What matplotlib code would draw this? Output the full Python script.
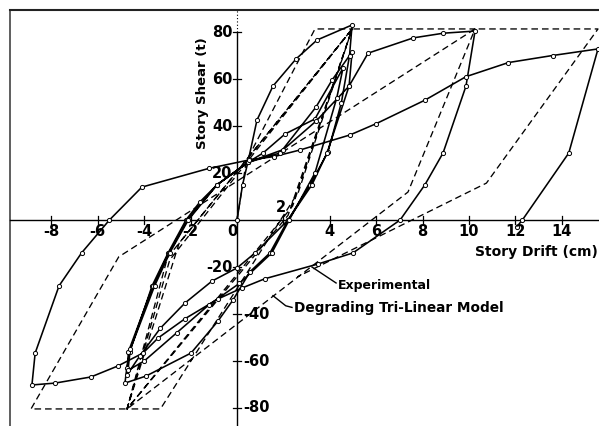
import numpy as np
import matplotlib.pyplot as plt

plt.rcParams['font.family'] = 'DejaVu Sans'

## Experimental hysteresis (story drift in cm, story shear in t), traced in load order
exp_drift = [0, 0.24, 0.5, 0.86, 1.55, 2.54, 3.45, 4.96,
             4.85, 4.5, 3.92, 3.15, 2.2, 1.42, 0.56, -0.17, -0.82, -1.98, -3.92, -4.83,
             -4.75, -4.62, -3.66, -2.97, -2.2, -1.6, -0.86, 0.47, 1.85, 3.4, 4.1, 4.96,
             4.83, 3.88, 3.23, 2.2, 0.78, 0.0, -1.08, -2.24, -3.3, -4.2, -4.75,
             -4.68, -3.62, -2.93, -2.15, -0.86, 0.47, 1.12, 2.07, 3.36, 4.57,
             4.3, 3.36, 2.25, 1.5, 0.1, -1.2, -2.6, -4.0, -4.7,
             -4.6, -3.55, -2.9, -2.1, -0.86, 0.47, 2.0, 3.4, 4.83, 5.65, 7.6, 8.9, 10.26,
             9.87, 8.88, 8.1, 7.03, 5.0, 3.5, 1.2, 0.2, -0.82, -2.24, -3.4, -4.05, -5.13, -6.3, -7.84, -8.84,
             -8.7, -7.67, -6.7, -5.5, -4.1, -1.2, 0.5, 1.6, 2.72, 4.87, 6.0, 8.1, 9.87, 11.7, 13.6, 15.56,
             14.3, 12.3, 12.05]
exp_shear = [0, 15, 26, 42.5, 57, 68.5, 76.6, 83,
             70, 50, 29, 15, 0, -14, -22, -34, -43, -56.6, -66.4, -69.4,
             -63, -56, -28, -14, 0, 7.7, 15, 24.5, 28.5, 48, 59.6, 71.5,
             57, 28.5, 15, 0, -14, -20.4, -26, -35.3, -46, -58, -66,
             -56, -28, -14, 0, 15, 24.5, 28.5, 36.6, 43, 64.7,
             52, 20, 0, -14, -27, -36, -48, -60, -64,
             -55, -28, -14, 0, 15, 24.5, 30, 42, 57, 71, 77.5, 79.5, 80.4,
             57, 28.5, 15, 0, -14, -18.7, -25, -29, -33.6, -42, -50.2, -56.6, -62.1, -66.8, -69.4, -70.2,
             -56.6, -28, -14, 0, 14, 22, 25.5, 27, 29.8, 36.2, 41, 51, 61, 67, 70, 72.8,
             28.5, 0, -3]

## Degrading tri-linear model path
model_drift = [0, 0.4, 3.36, 4.96,
               2.65, -3.3, -4.74,
               -2.9, 4.96,
               2.4, -4.74,
               -2.5, 4.96,
               2.2, -4.74,
               -3.0, 4.96, 10.26,
               7.37, -4.74, -8.88,
               -5.1, 10.26, 15.56,
               10.75, 2.6]
model_shear = [0, 25, 81.3, 81.3,
               12, -80.4, -80.4,
               -17, 81.3,
               6, -80.4,
               -10, 81.3,
               2, -80.4,
               -16, 81.3, 81.3,
               11.9, -80.4, -80.4,
               -15.7, 81.3, 81.3,
               15.7, -24.2]

x_ticks = [-8, -6, -4, -2, 0, 2, 4, 6, 8, 10, 12, 14]
y_ticks = [-80, -60, -40, -20, 20, 40, 60, 80]

fig = plt.figure(figsize=(5.99, 4.26), dpi=100)
ax = fig.add_axes([0, 0, 1, 1])
ax.set_xlim(-10.216, 15.603)
ax.set_ylim(-87.66, 93.62)
ax.axis('off')

## frame (cut off at right and bottom in the scan)
ax.plot([-9.78, -9.78], [-90, 89.36], color='#333333', lw=1.1)
ax.plot([-9.78, 16], [89.36, 89.36], color='#222222', lw=1.5)

## centre axes
ax.plot([-9.78, 16], [0, 0], color='k', lw=1.0)
ax.plot([0, 0], [-90, 80], color='k', lw=1.0)
ax.plot([0, 0], [80, 89.36], color='k', lw=0.8, linestyle=(0, (1, 2)))

for t in x_ticks:
    ax.plot([t, t], [-1.6, 1.6], color='k', lw=0.9)
for t in y_ticks:
    ax.plot([-0.17, 0.17], [t, t], color='k', lw=0.9)

fs = 10.5
for t in x_ticks:
    if t == 0:
        ax.text(-0.2, -5, '0', ha='center', va='center', fontsize=fs, fontweight='bold')
    elif t == 2:
        ax.text(1.9, 5.5, '2', ha='center', va='center', fontsize=fs, fontweight='bold')
    else:
        ax.text(t, -5, str(t), ha='center', va='center', fontsize=fs, fontweight='bold')
for t in y_ticks:
    if t >= -20:
        ax.text(-0.2, t, str(t), ha='right', va='center', fontsize=fs, fontweight='bold')
    else:
        ax.text(0.28, t, str(t), ha='left', va='center', fontsize=fs, fontweight='bold')

ax.text(-1.47, 54, 'Story Shear (t)', rotation=90, ha='center', va='center',
        fontsize=9.5, fontweight='bold')
ax.text(15.55, -13.6, 'Story Drift (cm)', ha='right', va='center',
        fontsize=10, fontweight='bold')

## curves
ax.plot(model_drift, model_shear, color='k', lw=0.95, linestyle=(0, (5, 3)))
ax.plot(exp_drift, exp_shear, color='k', lw=1.15, marker='o', markersize=3,
        markerfacecolor='white', markeredgewidth=0.7)

## labels with leaders
ax.plot([3.23, 4.27], [-20, -26.8], color='k', lw=1.0)
ax.text(4.35, -27.7, 'Experimental', ha='left', va='center', fontsize=9, fontweight='bold')
ax.plot([1.55, 2.1, 2.37], [-32.2, -36.5, -37.2], color='k', lw=1.0)
ax.text(2.45, -37.4, 'Degrading Tri-Linear Model', ha='left', va='center',
        fontsize=9.8, fontweight='bold')

fig.savefig('out.png', dpi=100)
